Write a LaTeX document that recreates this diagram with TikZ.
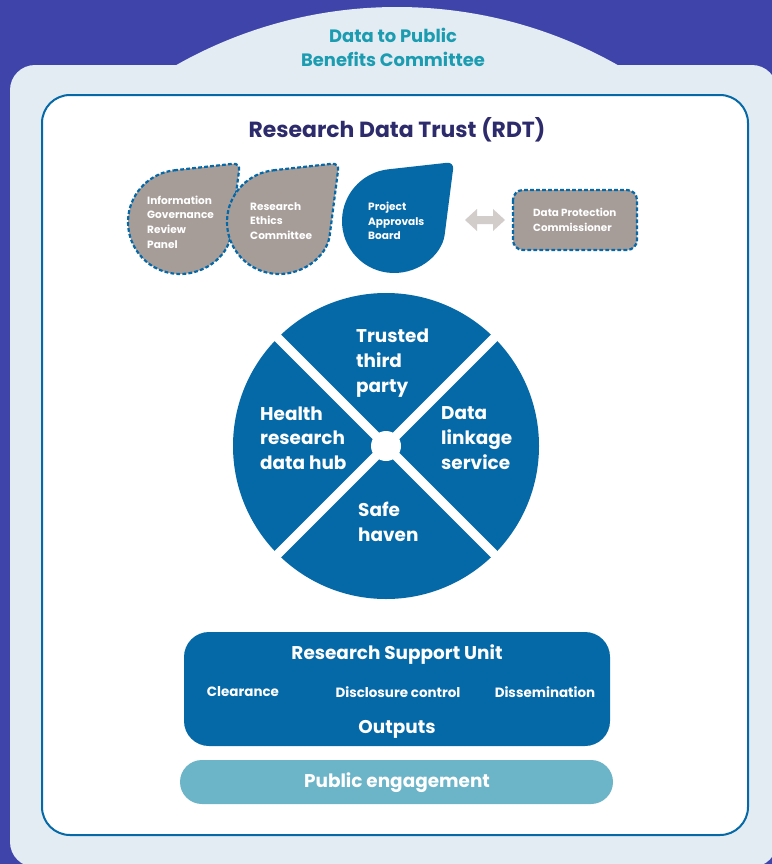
\documentclass[tikz,border=0pt]{standalone}
\usepackage{fontspec}
\setmainfont{Poppins}
\usetikzlibrary{calc}
\definecolor{bgpurple}{HTML}{3E44AA}
\definecolor{panel}{HTML}{E3ECF3}
\definecolor{rdtblue}{HTML}{0569A8}
\definecolor{leafgray}{HTML}{A69D99}
\definecolor{headteal}{HTML}{1C9CB1}
\definecolor{titlenavy}{HTML}{2D2B6B}
\definecolor{pubblue}{HTML}{6CB4C8}
\definecolor{arrowgray}{HTML}{D2CDCA}
\newcommand{\fsz}[2]{\fontsize{#1}{#2}\selectfont\bfseries}
\begin{document}
\begin{tikzpicture}[x=1bp,y=-1bp,
  wtext/.style={text=white, inner sep=0pt, align=left},
  ctext/.style={text=white, inner sep=0pt, align=center},
  leafline/.style={draw=rdtblue, line width=2.2bp, dash pattern=on 3.8bp off 2.2bp},
  leaftext/.style={wtext, anchor=west, font=\fsz{10.6}{14.8}},
  segtext/.style={wtext, anchor=west, font=\fsz{18.5}{24.8}},
]
\useasboundingbox (0,0) rectangle (772,864);
\fill[bgpurple] (0,0) rectangle (772,864);

% committee arch and outer panel
\begin{scope}
  \clip (0,0) rectangle (772,90);
  \fill[panel] (397,455) circle[radius=448];
\end{scope}
\fill[panel, rounded corners=25bp] (10,65) rectangle (777,867);
\node[ctext, text=headteal, font=\fsz{18}{24}] (dpbc) at (393,47) {Data to Public\\Benefits Committee};

% research data trust frame
\draw[rdtblue, line width=2bp, fill=white, rounded corners=28bp] (42,95) rectangle (748,835);
\node[ctext, text=titlenavy, font=\fsz{22}{26}] (rdt) at (397,130) {Research Data Trust (RDT)};

% leaf-shaped boards
\begin{scope}[shift={(180,222)}]
  \fill[leafgray] (-96.3:52) [rounded corners=7bp] -- (60,-59) -- (7.3:52) [sharp corners] arc[start angle=7.3,end angle=263.7,radius=52] -- cycle;
  \path[leafline] (-96.3:52) [rounded corners=7bp] -- (60,-59) -- (7.3:52) [sharp corners] arc[start angle=7.3,end angle=263.7,radius=52] -- cycle;
\end{scope}
\begin{scope}[shift={(279,222)}]
  \fill[leafgray] (-96.3:52) [rounded corners=7bp] -- (60,-59) -- (7.3:52) [sharp corners] arc[start angle=7.3,end angle=263.7,radius=52] -- cycle;
  \path[leafline] (-96.3:52) [rounded corners=7bp] -- (60,-59) -- (7.3:52) [sharp corners] arc[start angle=7.3,end angle=263.7,radius=52] -- cycle;
\end{scope}
\begin{scope}[shift={(394,221)}]
  \fill[rdtblue] (-96.3:52) [rounded corners=7bp] -- (60,-59) -- (7.3:52) [sharp corners] arc[start angle=7.3,end angle=263.7,radius=52] -- cycle;
\end{scope}
\node[leaftext] (igrp) at (147,222) {Information\\Governance\\Review\\Panel};
\node[leaftext] (rec) at (250,221) {Research\\Ethics\\Committee};
\node[leaftext] (pab) at (368,221) {Project\\Approvals\\Board};

% two-way arrow and data protection commissioner
\coordinate (arrL) at (465,220);
\coordinate (arrR) at (505,220);
\fill[arrowgray] (arrL) -- ++(12,-11) -- ++(0,7) -- ++(16,0) -- ++(0,-7) -- (arrR) -- ++(-12,11) -- ++(0,-7) -- ++(-16,0) -- ++(0,7) -- cycle;
\path[leafline, fill=leafgray, rounded corners=10bp] (513,190) rectangle (637,250);
\node[leaftext, font=\fsz{10.4}{15}] (dpc) at (533,220) {Data Protection\\Commissioner};

% four services wheel
\begin{scope}[shift={(386,446)}]
  \fill[rdtblue] (0,0) circle[radius=153];
  \draw[white, line width=9bp] (45:165) -- (225:165);
  \draw[white, line width=9bp] (135:165) -- (315:165);
  \fill[white] (0,0) circle[radius=15];
\end{scope}
\node[segtext] (ttp) at (356,363) {Trusted\\third\\party};
\node[segtext] (hub) at (260,438) {Health\\research\\data hub};
\node[segtext] (dls) at (441,438) {Data\\linkage\\service};
\node[segtext] (safe) at (358,522) {Safe\\haven};

% research support unit
\fill[rdtblue, rounded corners=25bp] (184,632) rectangle (610,746);
\node[ctext, font=\fsz{18.5}{22}] (rsu) at (397,655) {Research Support Unit};
\node[ctext, font=\fsz{13.5}{16}] (clr) at (243,692) {Clearance};
\node[ctext, font=\fsz{13.5}{16}] (disc) at (398,692) {Disclosure control};
\node[ctext, font=\fsz{13.5}{16}] (diss) at (545,692) {Dissemination};
\node[ctext, font=\fsz{18.5}{22}] (out) at (397,729) {Outputs};

% public engagement band
\fill[pubblue, rounded corners=22bp] (180,760) rectangle (613,804);
\node[ctext, font=\fsz{18.5}{22}] (pub) at (397,783) {Public engagement};
\end{tikzpicture}
\end{document}
